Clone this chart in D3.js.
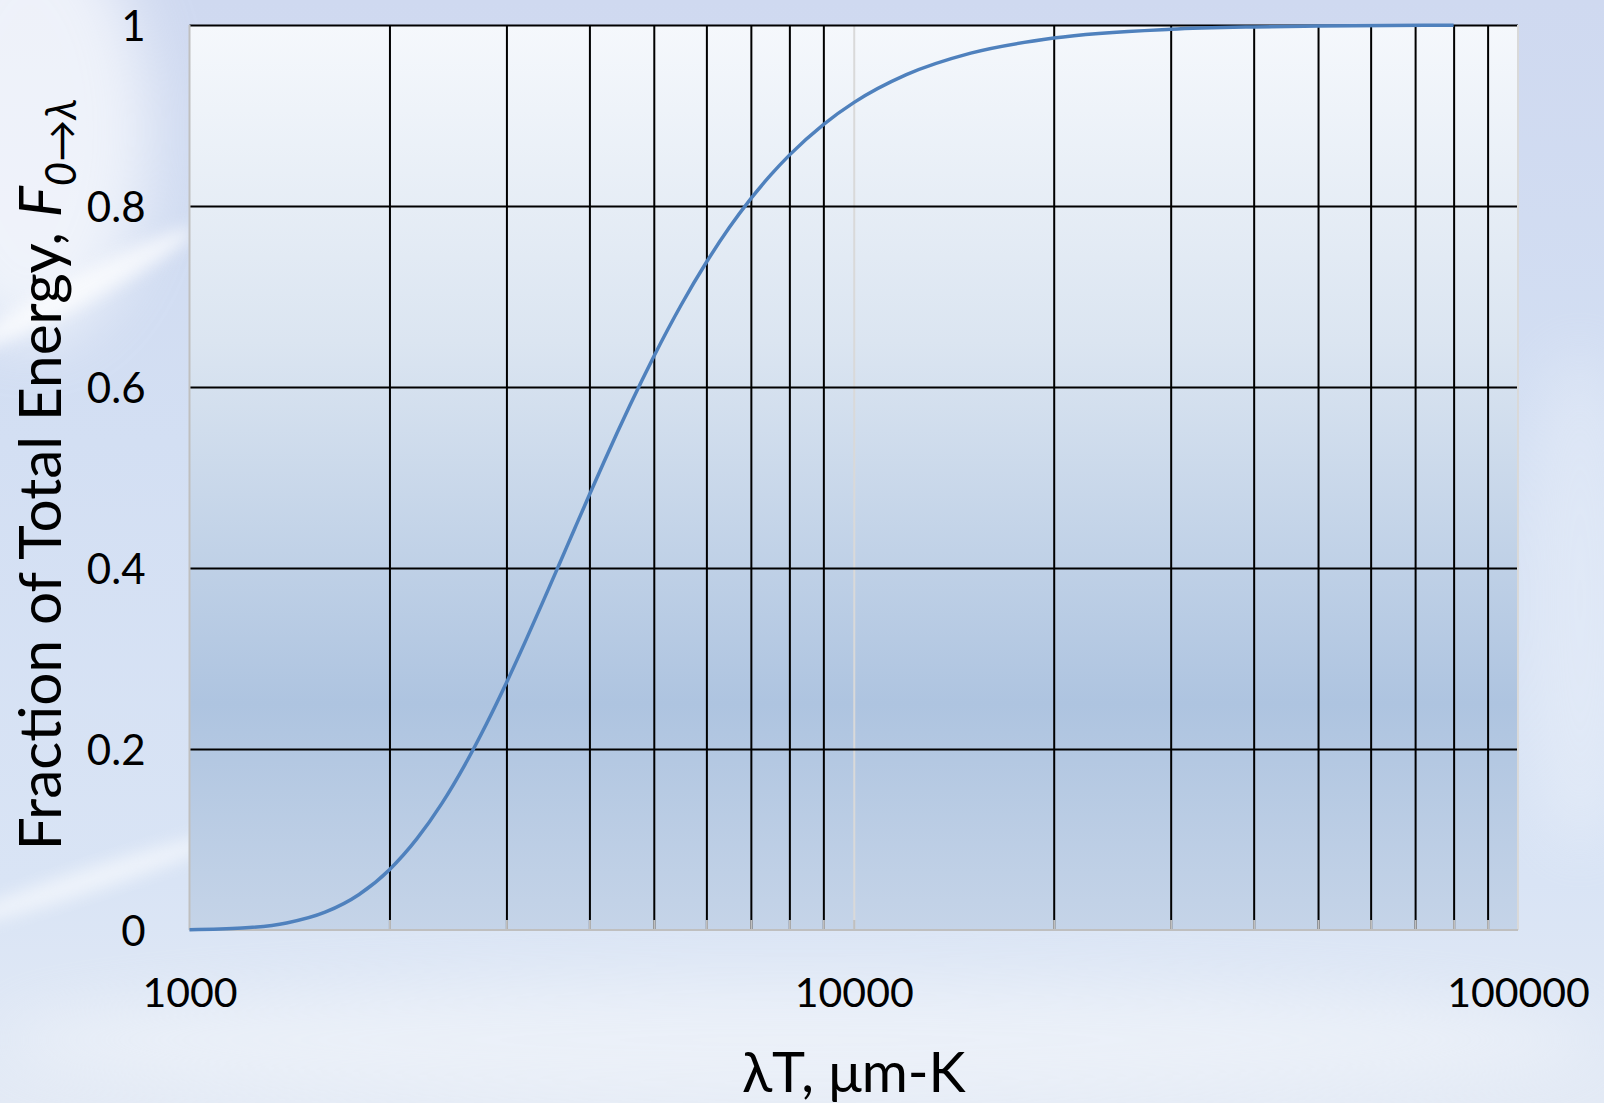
<!DOCTYPE html>
<html>
<head>
<meta charset="utf-8">
<script src="https://cdn.jsdelivr.net/npm/d3@7"></script>
<style>
  html, body { margin: 0; padding: 0; background: #d4dff3; }
  svg { display: block; }
  text { font-family: Lato, "Open Sans", "Liberation Sans", sans-serif; fill: #000; }
</style>
</head>
<body>
<svg id="chart" width="1604" height="1103"></svg>
<script>
// ---- data ----
const lambdaT = [1000, 1200, 1400, 1600, 1800, 2000, 2200, 2400, 2600, 2800, 3000, 3200, 3400, 3600, 3800,
  4000, 4200, 4400, 4600, 4800, 5000, 5500, 6000, 6500, 7000, 7500, 8000, 9000, 10000, 12000, 15000,
  20000, 30000, 40000, 50000, 80000];
const fraction = [0.0003, 0.0021, 0.0078, 0.0197, 0.0393, 0.0667, 0.1009, 0.1402, 0.1831, 0.2279, 0.2732,
  0.3181, 0.3617, 0.4036, 0.4434, 0.4809, 0.5160, 0.5488, 0.5793, 0.6075, 0.6337, 0.6909, 0.7378, 0.7764,
  0.8081, 0.8343, 0.8562, 0.8900, 0.9142, 0.9451, 0.9689, 0.9856, 0.9953, 0.9979, 0.9989, 0.9997];
const xMajorTicks = [1000, 10000, 100000];
const xMinorGrid = [2000, 3000, 4000, 5000, 6000, 7000, 8000, 9000,
  20000, 30000, 40000, 50000, 60000, 70000, 80000, 90000];
const yTicks = [0, 0.2, 0.4, 0.6, 0.8, 1];
const xTitle = "\u03BBT, \u03BCm-K";
const yTitleMain = "Fraction of Total Energy, ";
const yTitleVar = "F";
const yTitleSub = "0\u2192\u03BB";

// ---- layout ----
const svg = d3.select("#chart");
const W = 1604, H = 1103;
const pL = 189.5, pR = 1518, pT = 25, pB = 930;

// ---- background (sky) ----
const defs = svg.append("defs");
const sky = defs.append("linearGradient").attr("id", "sky").attr("x1", 0).attr("y1", 0).attr("x2", 0).attr("y2", 1);
[[0, "#cfd9f0"], [0.4, "#d3dff3"], [0.8, "#d9e4f5"], [1, "#e3eaf5"]].forEach(([o, c]) =>
  sky.append("stop").attr("offset", o).attr("stop-color", c));
const blur = defs.append("filter").attr("id", "blur").attr("x", "-50%").attr("y", "-50%").attr("width", "200%").attr("height", "200%");
blur.append("feGaussianBlur").attr("stdDeviation", 30);
const blurS = defs.append("filter").attr("id", "blurS").attr("x", "-50%").attr("y", "-50%").attr("width", "200%").attr("height", "200%");
blurS.append("feGaussianBlur").attr("stdDeviation", 8);

svg.append("rect").attr("width", W).attr("height", H).attr("fill", "url(#sky)");
const clouds = svg.append("g");
clouds.append("ellipse").attr("cx", 30).attr("cy", 130).attr("rx", 120).attr("ry", 210).attr("fill", "#ffffff").attr("opacity", 0.65).attr("filter", "url(#blur)");
clouds.append("ellipse").attr("cx", 80).attr("cy", 290).attr("rx", 130).attr("ry", 14).attr("fill", "#ffffff").attr("opacity", 0.7)
  .attr("transform", "rotate(-28 80 290)").attr("filter", "url(#blurS)");
clouds.append("ellipse").attr("cx", 90).attr("cy", 880).attr("rx", 150).attr("ry", 12).attr("fill", "#ffffff").attr("opacity", 0.55)
  .attr("transform", "rotate(-18 90 880)").attr("filter", "url(#blurS)");
clouds.append("ellipse").attr("cx", 800).attr("cy", 1040).attr("rx", 800).attr("ry", 60).attr("fill", "#ffffff").attr("opacity", 0.35).attr("filter", "url(#blur)");
clouds.append("ellipse").attr("cx", 1580).attr("cy", 600).attr("rx", 60).attr("ry", 250).attr("fill", "#ffffff").attr("opacity", 0.25).attr("filter", "url(#blur)");

// ---- scales ----
const x = d3.scaleLog().domain([1000, 100000]).range([pL, pR]);
const y = d3.scaleLinear().domain([0, 1]).range([pB, pT]);

// ---- plot area ----
const pg = defs.append("linearGradient").attr("id", "plotbg").attr("x1", 0).attr("y1", 0).attr("x2", 0).attr("y2", 1);
[[0, "#f5f8fc"], [0.35, "#dbe5f1"], [0.75, "#aec4e0"], [1, "#c5d4e8"]].forEach(([o, c]) =>
  pg.append("stop").attr("offset", o).attr("stop-color", c));
svg.append("rect").attr("x", pL).attr("y", pT).attr("width", pR - pL).attr("height", pB - pT)
  .attr("fill", "url(#plotbg)");

// major vertical gridline (light)
svg.append("g").attr("transform", `translate(0,${pB})`)
  .call(d3.axisBottom(x).tickValues([10000]).tickSize(-(pB - pT)).tickFormat(""))
  .call(g => g.select(".domain").remove())
  .call(g => g.selectAll("line").attr("stroke", "#d9d9d9").attr("stroke-width", 2));

// minor vertical gridlines
svg.append("g").attr("transform", `translate(0,${pB})`)
  .call(d3.axisBottom(x).tickValues(xMinorGrid).tickSize(-(pB - pT)).tickFormat(""))
  .call(g => g.select(".domain").remove())
  .call(g => g.selectAll("line").attr("stroke", "#000").attr("stroke-width", 2));

// horizontal gridlines
svg.append("g").attr("transform", `translate(${pL},0)`)
  .call(d3.axisLeft(y).tickValues(yTicks.filter(d => d > 0)).tickSize(-(pR - pL)).tickFormat(""))
  .call(g => g.select(".domain").remove())
  .call(g => g.selectAll("line").attr("stroke", "#000").attr("stroke-width", 2));

// small gray tick marks at the bottom
svg.append("g").attr("transform", `translate(0,${pB})`)
  .call(d3.axisBottom(x).tickValues(xMinorGrid.concat([10000])).tickSize(-10).tickFormat(""))
  .call(g => g.select(".domain").remove())
  .call(g => g.selectAll("line").attr("stroke", "#bfbfbf").attr("stroke-width", 2));

// axis/border lines
svg.append("line").attr("x1", pL).attr("x2", pL).attr("y1", pT).attr("y2", pB).attr("stroke", "#bfbfbf").attr("stroke-width", 2);
svg.append("line").attr("x1", pR).attr("x2", pR).attr("y1", pT).attr("y2", pB).attr("stroke", "#d9d9d9").attr("stroke-width", 2);
svg.append("line").attr("x1", pL).attr("x2", pR).attr("y1", pB).attr("y2", pB).attr("stroke", "#bfbfbf").attr("stroke-width", 2);

// ---- curve ----
const line = d3.line().x((d, i) => x(lambdaT[i])).y(d => y(d)).curve(d3.curveMonotoneX);
svg.append("path").datum(fraction).attr("d", line).attr("fill", "none")
  .attr("stroke", "#4f81bd").attr("stroke-width", 3.5);

// ---- tick labels ----
svg.append("g").attr("transform", `translate(0,${pB})`)
  .call(d3.axisBottom(x).tickValues(xMajorTicks).tickSize(0).tickPadding(0).tickFormat(d3.format("d")))
  .call(g => g.select(".domain").remove())
  .call(g => g.selectAll("text").attr("font-size", 41).attr("dy", null).attr("y", 77)
    .attr("font-family", "Lato, 'Open Sans', sans-serif"));

svg.append("g").attr("transform", `translate(${pL},0)`)
  .call(d3.axisLeft(y).tickValues(yTicks).tickSize(0).tickPadding(0).tickFormat(d => String(d)))
  .call(g => g.select(".domain").remove())
  .call(g => g.selectAll("text").attr("font-size", 42).attr("x", -44).attr("dy", "0.36em")
    .attr("font-family", "Lato, 'Open Sans', sans-serif"));

// ---- axis titles ----
svg.append("text").attr("x", (pL + pR) / 2).attr("y", 1092).attr("text-anchor", "middle")
  .attr("font-size", 56).text(xTitle);

const yt = svg.append("text").attr("transform", `translate(61,${(pT + pB) / 2 - 3}) rotate(-90)`)
  .attr("text-anchor", "middle").attr("font-size", 58.5);
yt.append("tspan").text(yTitleMain);
yt.append("tspan").attr("font-style", "italic").text(yTitleVar);
yt.append("tspan").attr("font-style", "italic").attr("font-size", 42).attr("dy", 15).text(yTitleSub);
</script>
</body>
</html>
